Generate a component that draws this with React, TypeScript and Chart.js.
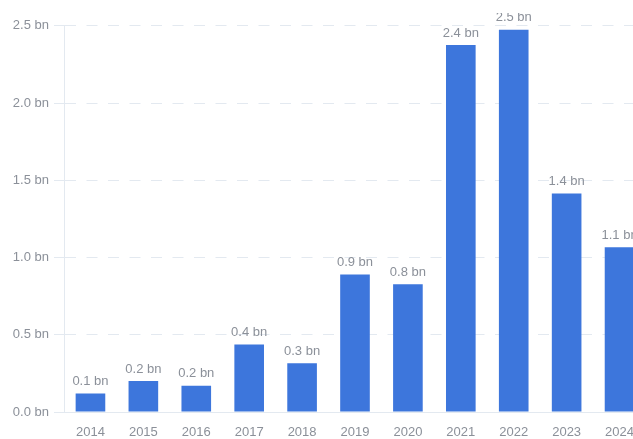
import React, { useEffect, useRef } from "react";
import { Chart, registerables } from "chart.js";

Chart.register(...registerables);

const categories = ["2014", "2015", "2016", "2017", "2018", "2019", "2020", "2021", "2022", "2023", "2024"];
const values = [0.12, 0.2, 0.17, 0.437, 0.316, 0.89, 0.827, 2.375, 2.474, 1.415, 1.066];
const yTicks = [0, 0.5, 1.0, 1.5, 2.0, 2.5];

const FONT = "Helvetica, Arial, 'Liberation Sans', sans-serif";
const TEXT = "#8b9099";
const GRID = "#e3e9f0";
const BAR = "#3d76dc";

const valueLabels = {
  id: "valueLabels",
  afterDatasetsDraw(chart: any) {
    const ctx = chart.ctx;
    const meta = chart.getDatasetMeta(0);
    ctx.save();
    ctx.font = `13px ${FONT}`;
    ctx.fillStyle = TEXT;
    ctx.textAlign = "center";
    ctx.textBaseline = "middle";
    meta.data.forEach((el: any, i: number) => {
      ctx.fillText(values[i].toFixed(1) + " bn", el.x, el.y - 12);
    });
    ctx.restore();
  },
};

export default function App() {
  const ref = useRef<HTMLCanvasElement>(null);
  useEffect(() => {
    const chart = new Chart(ref.current!, {
      type: "bar",
      data: {
        labels: categories,
        datasets: [
          {
            data: values,
            backgroundColor: BAR,
            barPercentage: 0.56,
            categoryPercentage: 1,
          },
        ],
      },
      options: {
        animation: false,
        responsive: false,
        devicePixelRatio: 1,
        layout: { padding: { top: 12, left: 0, right: 0, bottom: 0 } },
        plugins: { legend: { display: false }, tooltip: { enabled: false } },
        scales: {
          x: {
            afterFit: (s: any) => {
              s.height = 29;
            },
            grid: { display: false, drawTicks: false },
            border: { display: true, color: GRID, width: 1 },
            ticks: { color: TEXT, font: { family: FONT, size: 13 }, padding: 13, maxRotation: 0, autoSkip: false },
          },
          y: {
            min: 0,
            max: 2.5,
            afterFit: (s: any) => {
              s.width = 64;
            },
            afterBuildTicks: (s: any) => {
              s.ticks = yTicks.map((v) => ({ value: v }));
            },
            grid: {
              color: GRID,
              lineWidth: 1,
              tickLength: 10,
              tickBorderDash: [],
              tickColor: GRID,
            } as any,
            border: { display: true, color: GRID, width: 1, dash: [11, 10.5] },
            ticks: {
              color: TEXT,
              font: { family: FONT, size: 13 },
              padding: 5,
              callback: (v: any) => Number(v).toFixed(1) + " bn",
            },
          },
        },
      },
      plugins: [valueLabels],
    });
    return () => chart.destroy();
  }, []);
  return (
    <div style={{ position: "fixed", left: 0, top: 0, width: 633, height: 439, overflow: "hidden", background: "#fff" }}>
      <div style={{ position: "absolute", left: 0, top: 13, width: 647, height: 428 }}>
        <canvas ref={ref} width={647} height={428} style={{ display: "block", width: 647, height: 428 }} />
      </div>
    </div>
  );
}
